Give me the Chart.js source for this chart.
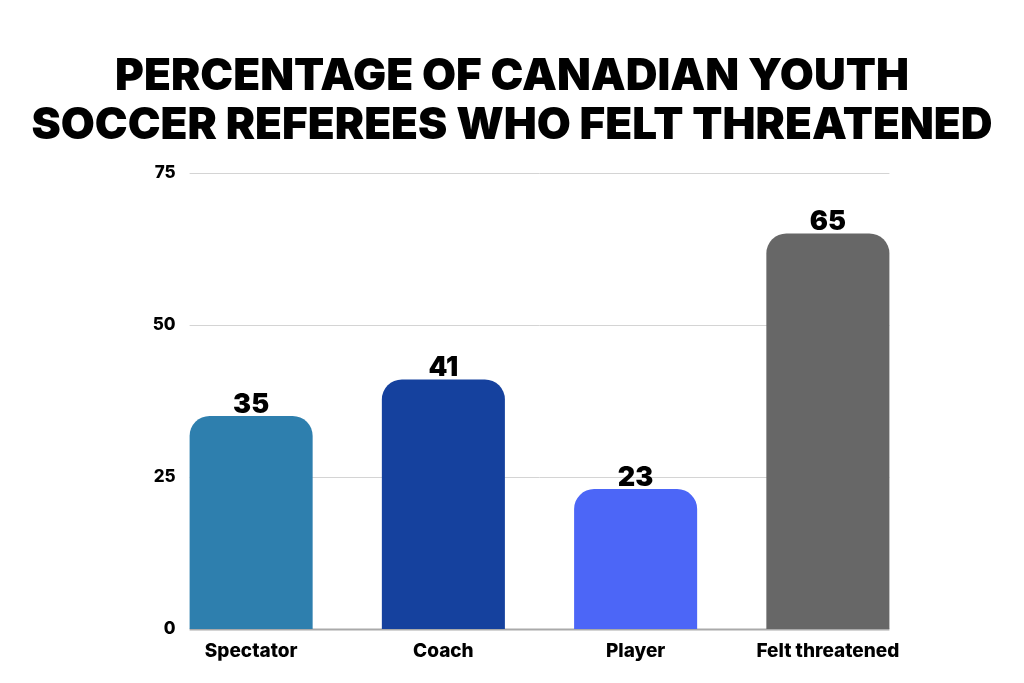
<!DOCTYPE html>
<html>
<head>
<meta charset="utf-8">
<script src="https://cdn.jsdelivr.net/npm/chart.js@4.4.0/dist/chart.umd.min.js"></script>
<style>
html,body{margin:0;padding:0;background:#fff;}
#wrap{width:1024px;height:683px;position:relative;}
</style>
</head>
<body>
<div id="wrap"><canvas id="c" width="1024" height="683"></canvas></div>
<script>
const categories = ["Spectator", "Coach", "Player", "Felt threatened"];
const values = [35, 41, 23, 65];
const barColors = ["#2E7FAE", "#15419E", "#4C66F7", "#676767"];
const yTicks = [0, 25, 50, 75];
const titleLines = ["PERCENTAGE OF CANADIAN YOUTH", "SOCCER REFEREES WHO FELT THREATENED"];

const gridPlugin = {
  id: 'gridPlugin',
  beforeDatasetsDraw(chart) {
    const ctx = chart.ctx;
    const meta = chart.getDatasetMeta(0);
    const first = meta.data[0], last = meta.data[meta.data.length - 1];
    const x0 = first.x - first.width / 2;
    const x1 = last.x + last.width / 2;
    const ys = chart.scales.y;
    ctx.save();
    yTicks.forEach(v => {
      const yp = ys.getPixelForValue(v);
      const y = Math.round(yp) + 0.5;
      ctx.beginPath();
      if (v === 0) { ctx.strokeStyle = '#aaaaaa'; ctx.lineWidth = 2; }
      else { ctx.strokeStyle = '#d4d4d4'; ctx.lineWidth = 1; }
      ctx.moveTo(x0, y); ctx.lineTo(x1, y);
      ctx.stroke();
      ctx.fillStyle = '#000';
      ctx.font = '800 17px Inter';
      ctx.textAlign = 'right';
      ctx.textBaseline = 'middle';
      ctx.fillText(String(v), x0 - 14, yp);
    });
    ctx.restore();
  }
};

const valueLabels = {
  id: 'valueLabels',
  afterDatasetsDraw(chart) {
    const ctx = chart.ctx;
    const meta = chart.getDatasetMeta(0);
    ctx.save();
    ctx.font = '900 27px Inter';
    ctx.fillStyle = '#000';
    ctx.textAlign = 'center';
    ctx.textBaseline = 'alphabetic';
    meta.data.forEach((bar, i) => {
      ctx.fillText(String(values[i]), bar.x, bar.y - 3);
    });
    ctx.restore();
  }
};

new Chart(document.getElementById('c'), {
  type: 'bar',
  data: {
    labels: categories,
    datasets: [{
      data: values,
      backgroundColor: barColors,
      borderRadius: {topLeft: 20, topRight: 20, bottomLeft: 0, bottomRight: 0},
      borderSkipped: false,
      categoryPercentage: 1,
      barPercentage: 0.64
    }]
  },
  options: {
    responsive: false,
    animation: false,
    layout: {padding: {left: 0, right: 0, top: 0, bottom: 0}},
    plugins: {
      legend: {display: false},
      tooltip: {enabled: false},
      title: {
        display: true,
        text: titleLines,
        color: '#000',
        font: {family: 'Inter', size: 44, weight: '900', lineHeight: 1.12},
        padding: {top: 52, bottom: 22}
      }
    },
    scales: {
      x: {
        grid: {display: false},
        border: {display: false},
        ticks: {color: '#000', font: {family: 'Inter', size: 19, weight: '800'}, padding: 3},
        afterFit(scale) { scale.height = 54; }
      },
      y: {
        min: 0, max: 75,
        afterBuildTicks(scale) { scale.ticks = yTicks.map(v => ({value: v})); },
        grid: {display: false, drawTicks: false},
        border: {display: false},
        ticks: {display: false},
        afterFit(scale) { scale.width = 155; }
      },
      y2: {
        type: 'linear',
        position: 'right',
        display: true,
        grid: {display: false, drawTicks: false},
        border: {display: false},
        ticks: {display: false},
        afterFit(scale) { scale.width = 100; }
      }
    }
  },
  plugins: [gridPlugin, valueLabels]
});
</script>
</body>
</html>
